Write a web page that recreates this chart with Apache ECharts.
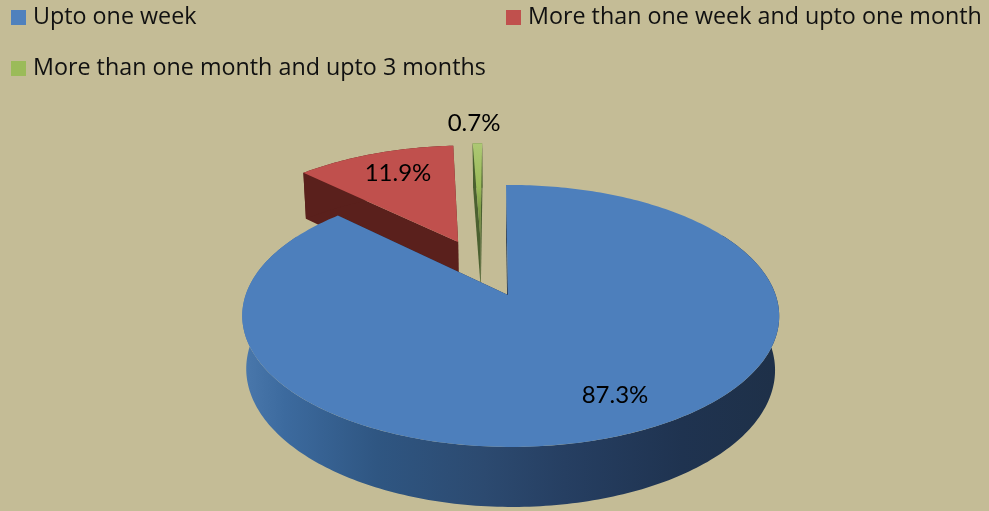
<!DOCTYPE html>
<html>
<head>
<meta charset="utf-8">
<title>Pie</title>
<style>
    html, body { margin: 0; padding: 0; background: #c4bc96; }
    #pie { width: 989px; height: 511px; }
</style>
<script src="https://cdn.jsdelivr.net/npm/echarts@6/dist/echarts.min.js"></script>
</head>
<body>
<div id="pie"></div>
<script>
var categories = ['Upto one week', 'More than one week and upto one month', 'More than one month and upto 3 months'];
var values = [87.3, 11.9, 0.7];
var valueLabels = ['87.3%', '11.9%', '0.7%'];

var total = values.reduce(function (a, b) { return a + b; }, 0);
var fontName = 'Lato';

// 透视参数
var view = { cx: 508, cy: 295, r: 265, a: 127.6, depth: 53.6, k: 0.16, m: 0.015, l: -0.01, start: -0.5 };

// 每块的样式：分离偏移、标签位置、颜色
var sliceStyle = [
    { dx: 0, dy: 0, label: [615, 395], top: '#4d7fbc', side: '#1f3350', color: '#4f81bd' },
    { dx: -0.202, dy: 0.445, label: [398, 173], top: '#c0504d', side: '#5a201c', color: '#c0504d' },
    { dx: -0.112, dy: 0.472, label: [474, 123], top: '#a5c266', side: '#4a6030', color: '#9bbb59' }
];

// 圆盘坐标投影到屏幕
function project(u, v, z) {
    var s = 1 / (1 + view.k * v + view.l * u + view.m * z);
    return [view.cx + view.r * u * s, view.cy - view.a * v * s + view.depth * z * s];
}

function rimPoint(deg, z, st) {
    var t = deg * Math.PI / 180;
    return project(Math.sin(t) + st.dx, Math.cos(t) + st.dy, z);
}

function rimPath(from, to, z, st) {
    var pts = [];
    var n = Math.max(2, Math.ceil(Math.abs(to - from)));
    for (var i = 0; i <= n; i++) {
        pts.push(rimPoint(from + (to - from) * i / n, z, st));
    }
    return pts;
}

function sliceAngles(index) {
    var before = 0;
    for (var i = 0; i < index; i++) {
        before += values[i];
    }
    return [view.start + before / total * 360, view.start + (before + values[index]) / total * 360];
}

function poly(points, fill) {
    return { type: 'polygon', shape: { points: points }, style: { fill: fill }, silent: true };
}

function renderSlice(params, api) {
    var index = api.value(1);
    var st = sliceStyle[index];
    var ang = sliceAngles(index);
    var children = [];
    var apex0 = project(st.dx, st.dy, 0);
    var apex1 = project(st.dx, st.dy, 1);

    // 切面
    children.push(poly([apex0, apex1, rimPoint(ang[1], 1, st), rimPoint(ang[1], 0, st)], st.side));
    children.push(poly([apex0, apex1, rimPoint(ang[0], 1, st), rimPoint(ang[0], 0, st)], st.side));

    // 外侧面
    var side = st.side;
    var from = ang[0], to = ang[1];
    if (index === 0) {
        from = 60;
        to = 300;
        side = new echarts.graphic.LinearGradient(0, 0, 1, 0, [
            { offset: 0, color: '#4a78ac' },
            { offset: 0.08, color: '#3c6a9e' },
            { offset: 0.25, color: '#2f5682' },
            { offset: 0.45, color: '#2c4a70' },
            { offset: 0.6, color: '#263f62' },
            { offset: 0.82, color: '#1f3350' },
            { offset: 1, color: '#1e3048' }
        ]);
    }
    children.push(poly(rimPath(from, to, 0, st).concat(rimPath(to, from, 1, st)), side));

    // 顶面
    var topFill = st.top;
    if (index === 2) {
        topFill = new echarts.graphic.LinearGradient(0, 0, 0, 1, [
            { offset: 0, color: '#adc874' },
            { offset: 0.45, color: '#9bbb59' },
            { offset: 1, color: '#55702f' }
        ]);
    }
    children.push(poly([apex0].concat(rimPath(ang[0], ang[1], 0, st)), topFill));

    children.push({
        type: 'text',
        z2: 10,
        silent: true,
        style: {
            text: valueLabels[index],
            x: st.label[0],
            y: st.label[1],
            align: 'center',
            verticalAlign: 'middle',
            fill: '#000',
            fontFamily: fontName,
            fontSize: 24
        }
    });
    return { type: 'group', children: children };
}

function legendFor(index, left, top) {
    return {
        left: left,
        top: top,
        padding: 0,
        itemWidth: 15,
        itemHeight: 15,
        icon: 'rect',
        selectedMode: false,
        data: [categories[index]],
        textStyle: { color: '#111', fontFamily: 'Open Sans', fontSize: 23.3, padding: [3, 0, 0, 2] }
    };
}

// 后面的块先画，蓝色块压在最上面
function seriesFor(index) {
    return {
        type: 'custom',
        name: categories[index],
        coordinateSystem: 'none',
        itemStyle: { color: sliceStyle[index].color },
        renderItem: renderSlice,
        silent: true,
        animation: false,
        data: [[values[index], index]]
    };
}

var myPie = echarts.init(document.getElementById('pie'));
myPie.setOption({
    backgroundColor: '#c4bc96',
    animation: false,
    legend: [legendFor(0, 11, 6), legendFor(1, 506, 6), legendFor(2, 11, 57)],
    series: [seriesFor(1), seriesFor(2), seriesFor(0)]
});

window.onresize = function () {
    myPie.resize();
};
</script>
</body>
</html>
